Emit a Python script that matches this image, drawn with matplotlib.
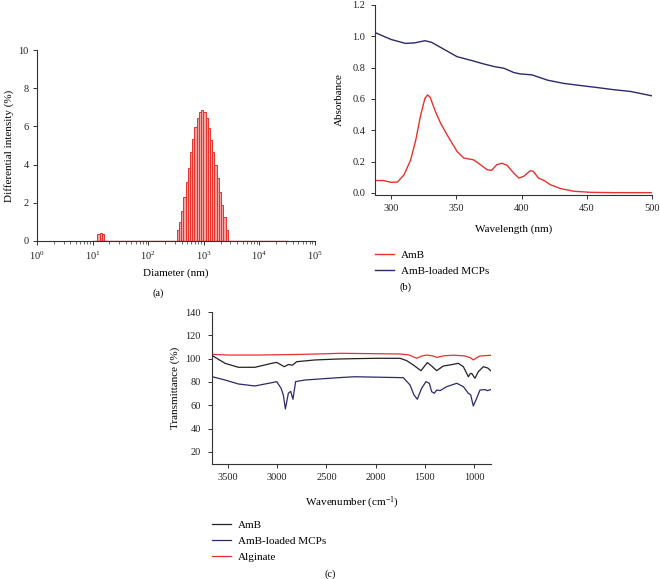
import numpy as np
import matplotlib
matplotlib.use('Agg')
import matplotlib.pyplot as plt
from matplotlib.ticker import LogLocator, LogFormatterMathtext, MultipleLocator

plt.rcParams['font.family'] = ['Liberation Serif', 'DejaVu Serif']
plt.rcParams['mathtext.fontset'] = 'custom'
plt.rcParams['mathtext.rm'] = 'Liberation Serif'
plt.rcParams['mathtext.it'] = 'Liberation Serif:italic'
plt.rcParams['font.size'] = 7.5

RED = '#e8322c'
NAVY = '#2c2a6c'
BLACK = '#222222'

# (a) DLS size distribution, bins evenly spaced in log10(diameter)
dls_log_start = 2.513
dls_log_width = 0.0399
dls_heights = [0.58, 1.01, 1.57, 2.32, 3.10, 3.84, 4.64, 5.35, 5.99, 6.45, 6.77, 6.86,
               6.77, 6.42, 5.90, 5.29, 4.64, 3.98, 3.28, 2.58, 1.90, 1.27, 0.58]
small_log_start = 1.085
small_heights = [0.38, 0.40, 0.36]
baseline_nm = [10, 32000]

# (b) UV-vis absorbance
uv_wl_amb = [288, 294, 300, 305, 310, 315, 319, 322.5, 326, 328, 330, 334, 338, 343, 350.6,
             355.7, 363, 367, 373.5, 377, 381, 385, 389, 394, 398, 401.6, 406.7, 409, 413,
             417, 422, 430, 440, 453, 471, 500]
uv_abs_amb = [0.079, 0.080, 0.068, 0.070, 0.117, 0.21, 0.34, 0.49, 0.605, 0.626, 0.61, 0.52,
              0.445, 0.37, 0.265, 0.223, 0.212, 0.19, 0.149, 0.144, 0.18, 0.19, 0.176, 0.127,
              0.095, 0.106, 0.142, 0.138, 0.095, 0.081, 0.053, 0.028, 0.011, 0.004, 0.002, 0.002]
uv_wl_mcp = [288, 300, 311, 318, 326, 331, 340, 350.6, 363, 370, 379, 386.6, 394, 399, 408,
             420, 432, 445, 458, 470, 483.6, 500]
uv_abs_mcp = [1.023, 0.98, 0.955, 0.958, 0.972, 0.962, 0.92, 0.87, 0.843, 0.826, 0.807, 0.796,
              0.769, 0.76, 0.754, 0.72, 0.70, 0.686, 0.673, 0.660, 0.648, 0.62]

# (c) FTIR transmittance
ir_wn_alg = [3660, 3500, 3200, 2800, 2500, 2362, 1752, 1660, 1582, 1530, 1480, 1420, 1379,
             1300, 1210, 1100, 1040, 1007, 970, 939, 830]
ir_t_alg = [103.7, 103.1, 103.1, 103.6, 104.2, 104.6, 104.0, 103.2, 100.3, 102.3, 103.1, 102.4,
            101.1, 102.5, 103.0, 102.4, 101.0, 98.9, 101.0, 102.3, 102.9]
ir_wn_amb = [3660, 3530, 3395, 3226, 3056, 3005, 2928, 2887, 2846, 2802, 2616, 2379, 2216,
             2000, 1752, 1684, 1617, 1539, 1474, 1430, 1379, 1312, 1244, 1159, 1108, 1057,
             1040, 1023, 1005, 990, 956, 905, 860, 830]
ir_t_amb = [102.6, 96.0, 92.6, 92.6, 96.0, 96.8, 93.1, 95.0, 94.4, 97.4, 98.9, 99.7, 100.0,
            100.3, 100.3, 98.3, 94.6, 89.7, 96.6, 93.7, 89.7, 93.7, 94.6, 96.0, 93.1, 84.5,
            87.0, 87.4, 85.0, 83.2, 88.8, 93.1, 92.0, 89.7]
ir_wn_mcp = [3660, 3530, 3395, 3226, 3056, 3005, 2961, 2938, 2917, 2887, 2863, 2840, 2813,
             2718, 2379, 2216, 1718, 1650, 1610, 1576, 1532, 1488, 1454, 1430, 1403, 1379,
             1345, 1277, 1175, 1108, 1057, 1033, 1007, 973, 939, 888, 864, 830]
ir_t_mcp = [84.5, 81.7, 78.3, 76.6, 79.4, 80.3, 74.6, 68.9, 56.9, 70.3, 72.0, 65.2, 80.3,
            81.7, 83.7, 84.5, 83.7, 77.4, 68.9, 65.2, 74.6, 80.3, 78.9, 71.7, 70.3, 73.1,
            72.6, 76.0, 78.9, 76.0, 70.3, 68.9, 59.4, 66.0, 73.1, 73.5, 72.6, 73.5]

W, H = 660, 579
fig = plt.figure(figsize=(W / 100, H / 100), dpi=100)


def px_axes(left, top, right, bottom):
    # axes placed by pixel box of the reference image
    return fig.add_axes([left / W, 1 - bottom / H, (right - left) / W, (bottom - top) / H])


def style(ax):
    for s in ['top', 'right']:
        ax.spines[s].set_visible(False)
    for s in ['left', 'bottom']:
        ax.spines[s].set_linewidth(0.8)
        ax.spines[s].set_color('#333333')
    ax.tick_params(direction='out', length=3, width=0.7, colors='#333333', labelsize=7.5,
                   labelcolor='#222222', pad=3.5)


# ---- (a) ----
ax1 = px_axes(37, 50, 315, 241)
style(ax1)
edges = 10 ** (dls_log_start + dls_log_width * np.arange(len(dls_heights) + 1))
ax1.bar(edges[:-1], dls_heights, width=np.diff(edges), align='edge',
        facecolor='#f3a3a0', edgecolor=RED, linewidth=0.7)
sedges = 10 ** (small_log_start + dls_log_width * np.arange(len(small_heights) + 1))
ax1.bar(sedges[:-1], small_heights, width=np.diff(sedges), align='edge',
        facecolor='#f3a3a0', edgecolor=RED, linewidth=0.7)
ax1.plot(baseline_nm, [0, 0], color=RED, lw=1.0, zorder=3)
ax1.set_xscale('log')
ax1.set_xlim(1, 1e5)
ax1.set_ylim(0, 10)
ax1.xaxis.set_major_locator(LogLocator(base=10, numticks=10))
ax1.xaxis.set_major_formatter(LogFormatterMathtext())
ax1.xaxis.set_minor_locator(LogLocator(base=10, subs=np.arange(2, 10), numticks=100))
ax1.tick_params(which='minor', direction='out', length=2, width=0.5, colors='#333333')
ax1.yaxis.set_major_locator(MultipleLocator(2))
ax1.tick_params(axis='y', pad=3)
ax1.set_xlabel('Diameter (nm)', fontsize=8, labelpad=4)
ax1.set_ylabel('Differential intensity (%)', fontsize=8, labelpad=3)
fig.text(158 / W, 1 - 293 / H, '(a)', ha='center', va='center', fontsize=7.5)

# ---- (b) ----
ax2 = px_axes(375, 5, 652, 195)
style(ax2)
l_amb, = ax2.plot(uv_wl_amb, uv_abs_amb, color=RED, lw=1.0)
l_mcp, = ax2.plot(uv_wl_mcp, uv_abs_mcp, color=NAVY, lw=1.0)
ax2.set_xlim(287.7, 500)
ax2.set_ylim(-0.013, 1.2)
ax2.xaxis.set_major_locator(MultipleLocator(50))
ax2.yaxis.set_major_locator(MultipleLocator(0.2))
ax2.yaxis.set_major_formatter(plt.FormatStrFormatter('%.1f'))
ax2.tick_params(axis='y', pad=4)
ax2.set_xlabel('Wavelength (nm)', fontsize=8, labelpad=8)
ax2.set_ylabel('Absorbance', fontsize=8, labelpad=6)
ax2.legend([l_amb, l_mcp], ['AmB', 'AmB-loaded MCPs'], loc='upper left',
           bbox_to_anchor=(375 / W, 1 - 250 / H), bbox_transform=fig.transFigure,
           frameon=False, fontsize=8, handlelength=1.7, handletextpad=0.6,
           borderpad=0, borderaxespad=0, labelspacing=0.55)
fig.text(405 / W, 1 - 287 / H, '(b)', ha='center', va='center', fontsize=7.5)

# ---- (c) ----
ax3 = px_axes(212, 312, 491, 464)
style(ax3)
c_amb, = ax3.plot(ir_wn_amb, ir_t_amb, color=BLACK, lw=0.9)
c_mcp, = ax3.plot(ir_wn_mcp, ir_t_mcp, color=NAVY, lw=0.9)
c_alg, = ax3.plot(ir_wn_alg, ir_t_alg, color=RED, lw=0.9)
ax3.set_xlim(3663, 827)
ax3.set_ylim(9.7, 140)
ax3.xaxis.set_major_locator(MultipleLocator(500))
ax3.set_yticks(np.arange(20, 141, 20))
ax3.tick_params(axis='y', pad=5)
ax3.set_xlabel('Wavenumber (cm$^{-1}$)', fontsize=8, labelpad=9)
ax3.set_ylabel('Transmittance (%)', fontsize=8, labelpad=4)
ax3.legend([c_amb, c_mcp, c_alg], ['AmB', 'AmB-loaded MCPs', 'Alginate'], loc='upper left',
           bbox_to_anchor=(212 / W, 1 - 520 / H), bbox_transform=fig.transFigure,
           frameon=False, fontsize=8, handlelength=1.7, handletextpad=0.6,
           borderpad=0, borderaxespad=0, labelspacing=0.55)
fig.text(330 / W, 1 - 574 / H, '(c)', ha='center', va='center', fontsize=7.5)

fig.savefig('out.png', dpi=100)
